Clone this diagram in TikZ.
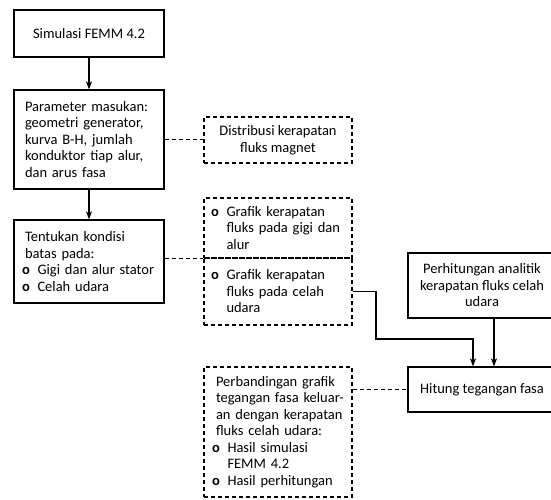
\documentclass[tikz,border=0pt]{standalone}
\usepackage{fontspec}
\setmainfont{Carlito}
\usetikzlibrary{arrows.meta}

\tikzset{
  kotak/.style={draw, line width=1.2pt, inner ysep=2pt, align=left,
                font=\fontsize{14.5}{16.5}\selectfont},
  kotakputus/.style={kotak, dash pattern=on 4pt off 3pt},
  panah/.style={line width=1.2pt, -{Stealth[length=8pt,width=6pt,inset=2pt]}},
  garisputus/.style={line width=1.2pt, dash pattern=on 4pt off 3pt},
}
\newcommand{\butir}[1]{\mbox{\makebox[15.5pt][l]{\textbf{o}}#1}}

\begin{document}
\begin{tikzpicture}[x=1pt,y=-1pt]

\useasboundingbox (0,0) rectangle (551,499);
\clip (0,0) rectangle (551,499);

%---------------------------------------
% Left column: simulation steps
%---------------------------------------
\node[kotak, align=center, minimum width=150pt, minimum height=47pt] (sim) at (89,33.5)
  {Simulasi FEMM 4.2};
\node[kotak, text width=128pt, inner xsep=11pt, minimum height=99pt] (param) at (89,139.5)
  {Parameter masukan:\\ geometri generator,\\ kurva B-H, jumlah\\ konduktor tiap alur,\\ dan arus fasa};
\node[kotak, text width=128pt, inner xsep=11pt, minimum height=83pt] (kond) at (89,261.5)
  {Tentukan kondisi\\ batas pada:\\ \hspace*{-3pt}\butir{Gigi dan alur stator}\\ \hspace*{-3pt}\butir{Celah udara}};

%---------------------------------------
% Middle column: results (dashed)
%---------------------------------------
\node[kotakputus, align=center, minimum width=148pt, minimum height=46pt] (dist) at (278,140)
  {Distribusi kerapatan\\ fluks magnet};
\node[kotakputus, text width=134pt, inner xsep=7pt, minimum height=60pt] (grafA) at (278,228)
  {\butir{Grafik kerapatan}\\ \hspace*{15.5pt}fluks pada gigi dan\\ \hspace*{15.5pt}alur};
\node[kotakputus, text width=134pt, inner xsep=7pt, minimum height=67pt] (grafB) at (278,291.5)
  {\butir{Grafik kerapatan}\\ \hspace*{15.5pt}fluks pada celah\\ \hspace*{15.5pt}udara};
\node[kotakputus, text width=134pt, inner xsep=7pt, minimum height=130pt] (banding) at (278,432)
  {\hspace*{5pt}Perbandingan grafik\\ \hspace*{5pt}\mbox{tegangan fasa keluar-}\\ \hspace*{5pt}an dengan kerapatan\\ \hspace*{5pt}fluks celah udara:\\
   \hspace*{1pt}\butir{Hasil simulasi}\\ \hspace*{16.5pt}FEMM 4.2\\ \hspace*{1pt}\butir{Hasil perhitungan}};

%---------------------------------------
% Right column: analytic part
%---------------------------------------
\node[kotak, align=center, minimum width=148pt, minimum height=65pt] (analitik) at (482,285.5)
  {Perhitungan analitik\\ kerapatan fluks celah\\ udara};
\node[kotak, align=center, minimum width=148pt, minimum height=45pt] (hitung) at (482,389.5)
  {Hitung tegangan fasa};

%---------------------------------------
% Connectors
%---------------------------------------
\draw[panah] (sim) -- (param);
\draw[panah] (param) -- (kond);
\draw[garisputus] (param.east) -- (param.east -| dist.west);
\draw[garisputus] (kond.east |- grafA.south) -- (grafA.south west);

\coordinate (belok) at (376,339);
\draw[panah] (grafB.east) -| (belok) -| ([xshift=-9pt]hitung.north);
\draw[panah] ([xshift=12pt]analitik.south) -- ([xshift=12pt]hitung.north);
\draw[garisputus] (banding.east |- hitung.west) -- (hitung.west);

\end{tikzpicture}
\end{document}
